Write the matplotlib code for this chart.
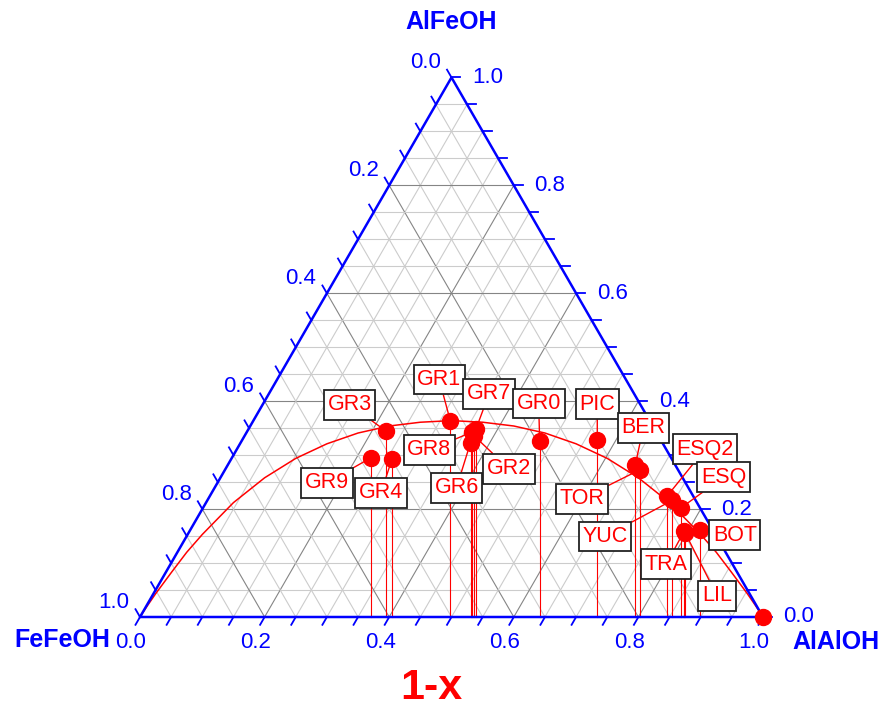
import numpy as np
import matplotlib.pyplot as plt
from matplotlib.path import Path

plt.rcParams['font.family'] = ['Liberation Sans', 'DejaVu Sans']

# sample compositions (genotype fractions)
sites = ['GR3', 'GR9', 'GR4', 'GR1', 'GR7', 'GR8', 'GR2', 'GR6', 'GR0', 'PIC',
         'BER', 'TOR', 'ESQ2', 'YUC', 'ESQ', 'TRA', 'LIL', 'BOT', '']
al_al = [0.222, 0.223, 0.258, 0.316, 0.365, 0.362, 0.368, 0.369, 0.478, 0.570,
         0.654, 0.666, 0.734, 0.746, 0.767, 0.794, 0.797, 0.818, 1.000]
al_fe = [0.345, 0.295, 0.293, 0.364, 0.349, 0.343, 0.336, 0.323, 0.327, 0.328,
         0.282, 0.273, 0.224, 0.216, 0.202, 0.159, 0.156, 0.161, 0.000]

# fitted curve: heterozygote fraction against 1-x
curve_p = [0.0, 0.0125, 0.025, 0.05, 0.075, 0.1, 0.15, 0.2, 0.25, 0.3, 0.35, 0.4, 0.45, 0.5,
           0.55, 0.6, 0.65, 0.7, 0.75, 0.8, 0.85, 0.9, 0.925, 0.95, 0.975, 0.9875, 1.0]
curve_het = [0.0, 0.022, 0.043, 0.082, 0.12, 0.153, 0.212, 0.258, 0.294, 0.321, 0.341, 0.354,
             0.361, 0.364, 0.361, 0.354, 0.341, 0.321, 0.294, 0.258, 0.212, 0.153, 0.12,
             0.082, 0.043, 0.022, 0.0]

tick_vals = [0.0, 0.2, 0.4, 0.6, 0.8, 1.0]

# offsets of the label boxes from their dots, in pixels (x right, y up)
label_off = {'GR3': (-36, 26), 'GR9': (-44, -25), 'GR4': (-11, -34), 'GR1': (-11, 41),
             'GR7': (13, 35), 'GR8': (-43, -18), 'GR2': (35, -33), 'GR6': (-14, -45),
             'GR0': (-1, 37), 'PIC': (0, 36), 'BER': (8, 37), 'TOR': (-58, -29),
             'ESQ2': (38, 47), 'YUC': (-67, -36), 'ESQ': (43, 31), 'TRA': (-18, -33),
             'LIL': (32, -63), 'BOT': (35, -5)}

S = np.sqrt(3) / 2
PX = 1 / 623.0  # one pixel in data units


def tern(a_al, a_fe):
    a_al = np.asarray(a_al)
    a_fe = np.asarray(a_fe)
    return a_al + a_fe / 2, a_fe * S


# label boxes are a bit taller than the square style gives
def tall_box(x0, y0, width, height, mutation_size):
    padx = 0.17 * mutation_size
    pady = 0.2 * mutation_size
    x1, y1 = x0 + width + padx, y0 + height + pady
    x0, y0 = x0 - padx, y0 - pady
    return Path([(x0, y0), (x1, y0), (x1, y1), (x0, y1), (x0, y0)], closed=True)


fig = plt.figure(figsize=(8.85, 7.07), dpi=100)
ax = fig.add_axes([0, 0, 1, 1])
ax.set_xlim(-140 * PX, 745 * PX)
ax.set_ylim(-90 * PX, 617 * PX)
ax.axis('off')

# grid every 0.05, darker every 0.2
for k in range(1, 20):
    v = k / 20
    col = '#858585' if k % 4 == 0 else '#cccccc'
    lw = 0.8
    ax.plot([v / 2, 1 - v / 2], [v * S, v * S], color=col, lw=lw, zorder=1)
    ax.plot([v, v + (1 - v) / 2], [0, (1 - v) * S], color=col, lw=lw, zorder=1)
    ax.plot([1 - v, (1 - v) / 2], [0, (1 - v) * S], color=col, lw=lw, zorder=1)

# curve
cx, cy = tern(np.array(curve_p) - np.array(curve_het) / 2, curve_het)
ax.plot(cx, cy, color='red', lw=1.1, zorder=3)

# vertical lines down to the 1-x axis
px, py = tern(al_al, al_fe)
for x, y in zip(px, py):
    ax.plot([x, x], [0, y], color='red', lw=0.8, zorder=3)

# triangle edges
ax.plot([0, 1, 0.5, 0], [0, 0, S, 0], color='blue', lw=1.8, zorder=4,
        solid_capstyle='round')

# ticks every 0.05
L = 9 * PX
for k in range(21):
    v = k / 20
    # left axis (FeFeOH)
    x0, y0 = (1 - v) / 2, (1 - v) * S
    ax.plot([x0, x0 - 0.5 * L], [y0, y0 + S * L], color='blue', lw=1.3, zorder=4)
    # right axis (AlFeOH)
    x0, y0 = 1 - v / 2, v * S
    ax.plot([x0, x0 + L], [y0, y0], color='blue', lw=1.3, zorder=4)
    # bottom axis (AlAlOH)
    ax.plot([v, v - 0.5 * L], [0, -S * L], color='blue', lw=1.3, zorder=4)

for v in tick_vals:
    s = '%.1f' % v
    ax.text((1 - v) / 2 - 26 * PX, (1 - v) * S + 15 * PX, s, color='blue',
            fontsize=16, ha='center', va='center')
    ax.text(1 - v / 2 + 36 * PX, v * S, s, color='blue',
            fontsize=16, ha='center', va='center')
    ax.text(v - 9 * PX, -25 * PX, s, color='blue',
            fontsize=16, ha='center', va='center')

# corner titles
ax.text(0.5, 595 * PX, 'AlFeOH', color='blue', fontsize=18, fontweight='bold',
        ha='center', va='center')
ax.text(-78 * PX, -23 * PX, 'FeFeOH', color='blue', fontsize=18, fontweight='bold',
        ha='center', va='center')
ax.text(696 * PX, -25 * PX, 'AlAlOH', color='blue', fontsize=18, fontweight='bold',
        ha='center', va='center')
ax.text(291 * PX, -71 * PX, '1-x', color='red', fontsize=31, fontweight='bold',
        ha='center', va='center')

# labelled points
for name, x, y in zip(sites, px, py):
    if name:
        dx, dy = label_off[name]
        ax.annotate(name, xy=(x, y), xytext=(dx * 0.72, dy * 0.72),
                    textcoords='offset points', ha='center', va='center',
                    color='red', fontsize=15.5, zorder=6,
                    bbox=dict(boxstyle=tall_box, fc='white', ec='#222222', lw=1.3),
                    arrowprops=dict(arrowstyle='-', color='red', lw=1,
                                    shrinkA=0, shrinkB=0))
ax.plot(px, py, 'o', color='red', ms=11.5, zorder=5, clip_on=False)

fig.savefig('out.png', dpi=100)
